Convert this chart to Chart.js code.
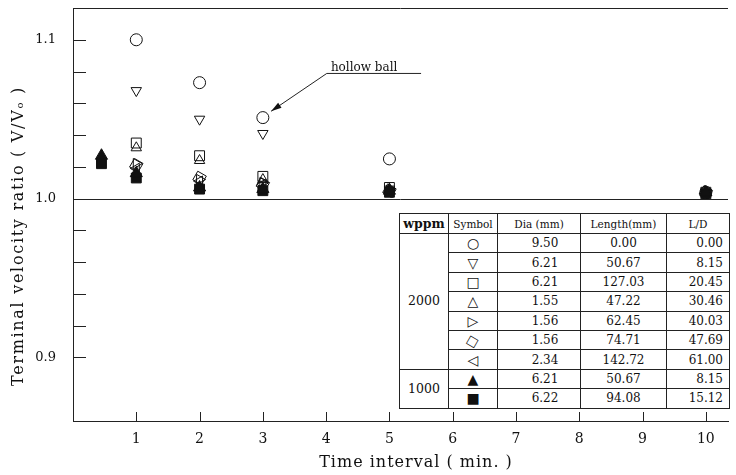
<!DOCTYPE html>
<html>
<head>
<meta charset="utf-8">
<script src="https://cdn.jsdelivr.net/npm/chart.js@4.4.1/dist/chart.umd.min.js"></script>
<style>
  html, body { margin: 0; padding: 0; background: #fff; }
  #wrap { position: relative; width: 736px; height: 475px; }
  #c { position: absolute; left: 0; top: 0; }
  table.leg {
    position: absolute; left: 399px; top: 213px;
    border-collapse: collapse; table-layout: fixed;
    font-family: "DejaVu Serif", "Liberation Serif", serif;
    font-size: 12px; color: #111; background: #fff;
  }
  table.leg td { border: 1px solid #222; padding: 0; height: 18.4px; text-align: center; line-height: 12px; }
  table.leg tr.hd td { height: 19px; font-size: 10.5px; }
  table.leg tr.hd td.w { font-size: 12.5px; font-weight: bold; }
  table.leg td.w { font-size: 12.5px; }
  table.leg td.s { font-family: "DejaVu Sans", sans-serif; font-size: 14px; color: #111; }
  table.leg td.s span.rot { display: inline-block; transform: rotate(30deg); font-size: 12px; }
  table.leg td.d { padding-left: 12px; }
  table.leg td.l { text-align: right; padding-right: 6px; }
</style>
</head>
<body>
<div id="wrap">
<canvas id="c" width="736" height="475"></canvas>
<table class="leg">
  <colgroup><col style="width:49px"><col style="width:49px"><col style="width:83px"><col style="width:86px"><col style="width:63px"></colgroup>
  <tr class="hd"><td class="w">wppm</td><td>Symbol</td><td>Dia (mm)</td><td>Length(mm)</td><td>L/D</td></tr>
  <tr><td class="w" rowspan="7">2000</td><td class="s">○</td><td class="d">9.50</td><td>0.00</td><td class="l">0.00</td></tr>
  <tr><td class="s">▽</td><td class="d">6.21</td><td>50.67</td><td class="l">8.15</td></tr>
  <tr><td class="s">□</td><td class="d">6.21</td><td>127.03</td><td class="l">20.45</td></tr>
  <tr><td class="s">△</td><td class="d">1.55</td><td>47.22</td><td class="l">30.46</td></tr>
  <tr><td class="s">▷</td><td class="d">1.56</td><td>62.45</td><td class="l">40.03</td></tr>
  <tr><td class="s"><span class="rot">□</span></td><td class="d">1.56</td><td>74.71</td><td class="l">47.69</td></tr>
  <tr><td class="s">◁</td><td class="d">2.34</td><td>142.72</td><td class="l">61.00</td></tr>
  <tr><td class="w" rowspan="2">1000</td><td class="s">▲</td><td class="d">6.21</td><td>50.67</td><td class="l">8.15</td></tr>
  <tr><td class="s">■</td><td class="d">6.22</td><td>94.08</td><td class="l">15.12</td></tr>
</table>
</div>
<script>
// ---- data ----
const times2000 = [1, 2, 3, 5, 10];
const circle2000   = [1.100, 1.073, 1.051, 1.025, 1.004];
const downTri2000  = [1.068, 1.050, 1.041, 1.006, 1.004];
const square2000   = [1.035, 1.027, 1.014, 1.007, 1.004];
const upTri2000    = [1.032, 1.024, 1.012, 1.006, 1.004];
const rightTri2000 = [1.022, 1.012, 1.010, 1.005, 1.003];
const diamond2000  = [1.021, 1.013, 1.009, 1.005, 1.004];
const leftTri2000  = [1.019, 1.011, 1.009, 1.004, 1.003];
const times1000 = [0.45, 1, 2, 3, 5, 10];
const filledTri1000 = [1.027, 1.016, 1.007, 1.006, 1.005, 1.004];
const filledSq1000  = [1.022, 1.013, 1.006, 1.005, 1.004, 1.003];
const xTickValues = [1, 2, 3, 4, 5, 6, 7, 8, 9, 10];
const yLabelValues = [0.9, 1.0, 1.1];
const yMinorValues = [0.9, 0.92, 0.94, 0.96, 0.98, 1.0, 1.02, 1.04, 1.06, 1.08, 1.1];

const pts = (xs, ys) => xs.map((x, i) => ({ x: x, y: ys[i] }));
const ink = '#111';
function ds(label, xs, ys, style, rot, r, filled) {
  return {
    label: label, data: pts(xs, ys), pointStyle: style, rotation: rot || 0,
    pointRadius: r, borderColor: ink, borderWidth: 1,
    backgroundColor: filled ? ink : 'rgba(0,0,0,0)', showLine: false
  };
}

const serif = '"DejaVu Serif", "Liberation Serif", serif';

const decor = {
  id: 'decor',
  afterDraw(chart) {
    const { ctx, chartArea: a, scales: { x, y } } = chart;
    ctx.save();
    ctx.strokeStyle = '#222';
    ctx.lineWidth = 1;
    // top frame line
    ctx.beginPath(); ctx.moveTo(a.left, a.top + 0.5); ctx.lineTo(728, a.top + 0.5); ctx.stroke();
    // reference line at 1.0
    const y1 = Math.round(y.getPixelForValue(1.0)) + 0.5;
    ctx.beginPath(); ctx.moveTo(a.left, y1); ctx.lineTo(a.right, y1); ctx.stroke();
    // inward y ticks
    yMinorValues.forEach(v => {
      const p = Math.round(y.getPixelForValue(v)) + 0.5;
      ctx.beginPath(); ctx.moveTo(a.left, p); ctx.lineTo(a.left + 13, p); ctx.stroke();
    });
    // inward x ticks
    xTickValues.forEach(v => {
      const p = Math.round(x.getPixelForValue(v)) + 0.5;
      ctx.beginPath(); ctx.moveTo(p, a.bottom); ctx.lineTo(p, a.bottom - 9); ctx.stroke();
    });
    // annotation
    const tx = x.getPixelForValue(4.6), ty = y.getPixelForValue(1.0825);
    ctx.fillStyle = ink;
    ctx.font = '12px ' + serif;
    ctx.textAlign = 'center'; ctx.textBaseline = 'middle';
    ctx.fillText('hollow ball', tx, ty);
    const ux0 = x.getPixelForValue(4.01), ux1 = x.getPixelForValue(5.5), uy = y.getPixelForValue(1.0788);
    ctx.beginPath(); ctx.moveTo(ux0, uy); ctx.lineTo(ux1, uy); ctx.stroke();
    const hx = x.getPixelForValue(3.13), hy = y.getPixelForValue(1.055);
    ctx.beginPath(); ctx.moveTo(ux0, uy); ctx.lineTo(hx, hy); ctx.stroke();
    const ang = Math.atan2(hy - uy, hx - ux0);
    ctx.beginPath();
    ctx.moveTo(hx, hy);
    ctx.lineTo(hx - 11 * Math.cos(ang - 0.28), hy - 11 * Math.sin(ang - 0.28));
    ctx.lineTo(hx - 11 * Math.cos(ang + 0.28), hy - 11 * Math.sin(ang + 0.28));
    ctx.closePath(); ctx.fill();
    // axis titles
    ctx.font = '16px ' + serif;
    ctx.letterSpacing = '1px';
    ctx.textAlign = 'center'; ctx.textBaseline = 'middle';
    ctx.fillText('Time interval ( min. )', 416, 463);
    ctx.letterSpacing = '1.7px';
    ctx.translate(19, 236);
    ctx.rotate(-Math.PI / 2);
    ctx.fillText('Terminal velocity ratio ( V/Vₒ )', 0, 0);
    ctx.restore();
  }
};

new Chart(document.getElementById('c'), {
  type: 'scatter',
  data: {
    datasets: [
      ds('1000 filled triangle', times1000, filledTri1000, 'triangle', 0, 7, true),
      ds('1000 filled square', times1000, filledSq1000, 'rect', 0, 7, true),
      ds('circle', times2000, circle2000, 'circle', 0, 6, false),
      ds('down triangle', times2000, downTri2000, 'triangle', 180, 6, false),
      ds('square', times2000, square2000, 'rect', 0, 7, false),
      ds('up triangle', times2000, upTri2000, 'triangle', 0, 6, false),
      ds('right triangle', times2000, rightTri2000, 'triangle', 90, 6, false),
      ds('diamond', times2000, diamond2000, 'rect', 30, 7, false),
      ds('left triangle', times2000, leftTri2000, 'triangle', -90, 6, false)
    ]
  },
  options: {
    responsive: false,
    animation: false,
    layout: { padding: { top: 2, right: 1, left: 0, bottom: 0 } },
    plugins: { legend: { display: false }, tooltip: { enabled: false } },
    scales: {
      x: {
        type: 'linear', min: 0, max: 10.35,
        afterFit(s) { s.height = 54; s.paddingLeft = 0; s.paddingRight = 0; },
        afterBuildTicks(s) { s.ticks = xTickValues.map(v => ({ value: v })); },
        grid: { display: false, drawTicks: false },
        border: { display: true, color: '#222', width: 1 },
        ticks: { color: ink, padding: 10, font: { family: serif, size: 14 }, callback: v => String(v) }
      },
      y: {
        type: 'linear', min: 0.86, max: 1.12,
        afterFit(s) { s.width = 73; s.paddingTop = 0; s.paddingBottom = 0; },
        afterBuildTicks(s) { s.ticks = yLabelValues.map(v => ({ value: v })); },
        grid: { display: false, drawTicks: false },
        border: { display: true, color: '#222', width: 1 },
        ticks: { color: ink, padding: 17, font: { family: serif, size: 13 }, callback: v => Number(v).toFixed(1) }
      }
    }
  },
  plugins: [decor]
});
</script>
</body>
</html>
